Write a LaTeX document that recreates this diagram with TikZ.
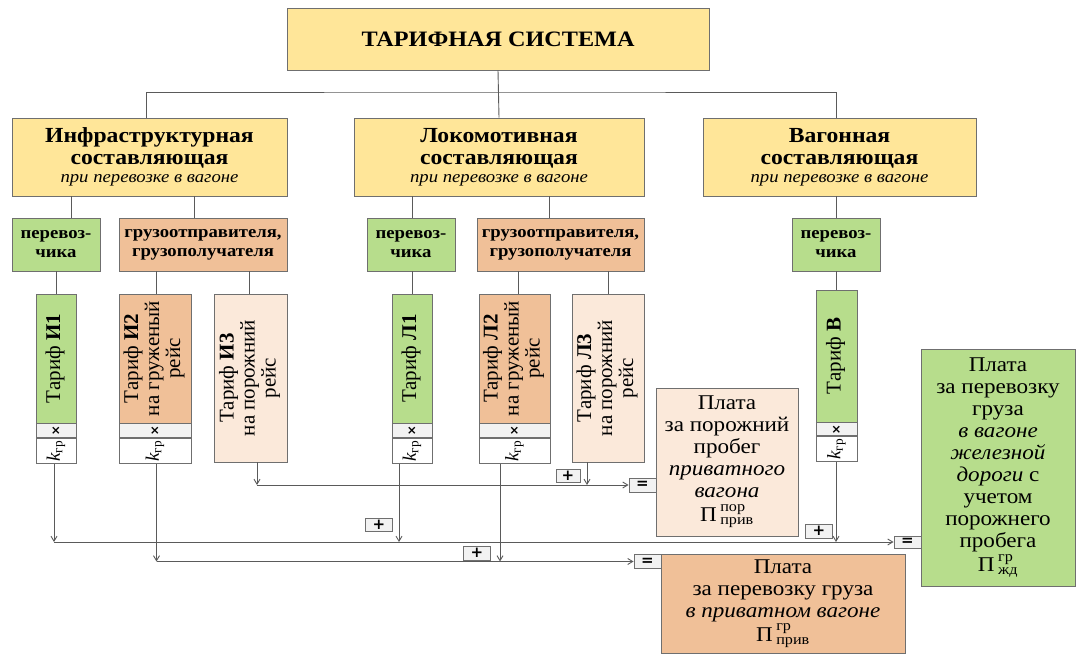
\documentclass[tikz,border=0pt]{standalone}
\usepackage{amsmath}
\usepackage{graphicx}
\usepackage{fontspec}
\setmainfont{Liberation Serif}[FakeStretch=1.1]
\newfontfamily\rotfont{Liberation Serif}
\newfontfamily\symfont{DejaVu Sans}
\usetikzlibrary{arrows.meta,calc}
\definecolor{yel}{HTML}{FFE699}
\definecolor{grn}{HTML}{B7DD8C}
\definecolor{org}{HTML}{F0C098}
\definecolor{pch}{HTML}{FBE9DA}
\definecolor{opf}{HTML}{F2F2F2}
\definecolor{bord}{HTML}{6F6F6F}
\definecolor{lin}{HTML}{5A5A5A}
\tikzset{
  bx/.style={draw=bord, line width=0.9pt, inner sep=0pt, align=center, text=black},
  conn/.style={draw=lin, line width=0.9pt},
  arr/.style={conn, -{Straight Barb[length=5pt,width=6pt]}},
  opbox/.style={bx, fill=opf, minimum width=27pt, minimum height=14pt, font=\symfont\fontsize{15}{15}\selectfont\bfseries},
  comp/.style={bx, fill=yel, minimum height=78pt, font=\fontsize{21.5}{22}\selectfont},
  sub/.style={bx, minimum height=53pt, font=\fontsize{17}{19}\selectfont\bfseries},
  tar/.style={bx, minimum height=129pt, font=\rotfont\fontsize{21}{21}\selectfont},
  xrow/.style={bx, fill=opf, minimum height=14pt, anchor=north, font=\symfont\fontsize{12}{12}\selectfont\bfseries},
  krow/.style={bx, fill=white, minimum height=25pt, anchor=north, font=\rotfont\fontsize{19}{19}\selectfont},
  plata/.style={bx, font=\fontsize{21}{22}\selectfont},
}
\newcommand{\rt}[1]{\rotatebox{90}{\begin{tabular}{@{}c@{}}#1\end{tabular}}}
\newcommand{\kgr}{\rotatebox{90}{\textit{k}$_{\text{гр}}$}}
\newcommand{\subtl}{{\itshape\fontsize{17}{17}\selectfont при перевозке в вагоне}}
\begin{document}
\begin{tikzpicture}[x=1pt,y=-1pt]
\useasboundingbox (0,0) rectangle (1076,656);
% title
\node[bx, fill=yel, minimum width=422pt, minimum height=62pt, font=\fontsize{22}{22}\selectfont\bfseries] (title) at (498,39) {ТАРИФНАЯ СИСТЕМА};
% components
\node[comp, minimum width=275pt] (infra) at (149.5,157) {\textbf{Инфраструктурная}\\\textbf{составляющая}\\[-4pt]\subtl};
\node[comp, minimum width=290pt] (lok) at (499,157) {\textbf{Локомотивная}\\\textbf{составляющая}\\[-4pt]\subtl};
\node[comp, minimum width=273pt] (vag) at (839.5,157) {\textbf{Вагонная}\\\textbf{составляющая}\\[-4pt]\subtl};
% sub boxes
\node[sub, fill=grn, minimum width=88pt] (p1) at (56,244.5) {перевоз-\\чика};
\node[sub, fill=org, minimum width=168pt] (g1) at (203,244.5) {грузоотправителя,\\грузополучателя};
\node[sub, fill=grn, minimum width=88pt] (p2) at (411,244.5) {перевоз-\\чика};
\node[sub, fill=org, minimum width=167pt] (g2) at (560.5,244.5) {грузоотправителя,\\грузополучателя};
\node[sub, fill=grn, minimum width=88pt] (p3) at (836,244.5) {перевоз-\\чика};
% tariffs
\node[tar, fill=grn, minimum width=40pt] (i1) at (56,358.5) {\rt{Тариф \textbf{И1}}};
\node[xrow, minimum width=40pt] (i1x) at (i1.south) {×};
\node[krow, minimum width=40pt] (i1k) at (i1x.south) {\kgr};
\node[tar, fill=org, minimum width=72pt] (i2) at (155,358.5) {\rt{Тариф \textbf{И2}\\на груженый\\рейс}};
\node[xrow, minimum width=72pt] (i2x) at (i2.south) {×};
\node[krow, minimum width=72pt] (i2k) at (i2x.south) {\kgr};
\node[tar, fill=pch, minimum width=73pt, minimum height=168pt] (i3) at (250.5,378) {\rt{Тариф \textbf{И3}\\на порожний\\рейс}};
\node[tar, fill=grn, minimum width=40pt] (l1) at (412,358.5) {\rt{Тариф \textbf{Л1}}};
\node[xrow, minimum width=40pt] (l1x) at (l1.south) {×};
\node[krow, minimum width=40pt] (l1k) at (l1x.south) {\kgr};
\node[tar, fill=org, minimum width=71pt] (l2) at (514.5,358.5) {\rt{Тариф \textbf{Л2}\\на груженый\\рейс}};
\node[xrow, minimum width=71pt] (l2x) at (l2.south) {×};
\node[krow, minimum width=71pt] (l2k) at (l2x.south) {\kgr};
\node[tar, fill=pch, minimum width=72pt, minimum height=168pt] (l3) at (608,378) {\rt{Тариф \textbf{Л3}\\на порожний\\рейс}};
\node[tar, fill=grn, minimum width=41pt, minimum height=132pt] (v) at (836.5,356) {\rt{Тариф \textbf{В}}};
\node[xrow, minimum width=41pt, minimum height=13pt] (vx) at (v.south) {×};
\node[krow, minimum width=41pt] (vk) at (vx.south) {\kgr};
% result boxes
\node[plata, fill=pch, minimum width=142pt, minimum height=148pt] (pe) at (727,462) {Плата\\за порожний\\пробег\\\textit{приватного}\\\textit{вагона}\\[2pt]П$\,{}^{\text{пор}}_{\text{прив}}$};
\node[plata, fill=grn, minimum width=154pt, minimum height=237pt] (pz) at (998,467.5) {Плата\\за перевозку\\груза\\\textit{в вагоне}\\\textit{железной}\\\textit{дороги} с\\учетом\\порожнего\\пробега\\[2pt]П$\,{}^{\text{гр}}_{\text{жд}}$};
\node[plata, fill=org, minimum width=244pt, minimum height=99pt] (pp) at (783,603.5) {Плата\\за перевозку груза\\\textit{в приватном вагоне}\\[2pt]П$\,{}^{\text{гр}}_{\text{прив}}$};
% operators
\node[opbox] (eq3) at (642.5,485) {=};
\node[opbox] (eq2) at (647.5,561.5) {=};
\node[opbox, minimum height=12pt] (eq1) at (907.5,542) {=};
\node[opbox, minimum width=24pt, minimum height=13pt] (pl3) at (568,475.5) {+};
\node[opbox, minimum height=13pt] (pl1) at (379,524.5) {+};
\node[opbox] (pl2) at (477,553) {+};
\node[opbox] (pl4) at (819,531) {+};
% connectors: top
\coordinate (bus) at (498,92);
\draw[conn] (title.south) -- (lok.north);
\draw[conn] ([xshift=-3.5pt]infra.north) |- (bus) -| ([xshift=-3.5pt]vag.north);
\draw[conn] ([xshift=15pt]p1.north) -- ([xshift=15pt]p1.north |- infra.south);
\draw[conn] ([xshift=-9pt]g1.north) -- ([xshift=-9pt]g1.north |- infra.south);
\draw[conn] ([xshift=1pt]p2.north) -- ([xshift=1pt]p2.north |- lok.south);
\draw[conn] ([xshift=-11.5pt]g2.north) -- ([xshift=-11.5pt]g2.north |- lok.south);
\draw[conn] (p3.north) -- (p3.north |- vag.south);
\draw[conn] (i1.north) -- (i1.north |- p1.south);
\draw[conn] ([xshift=1pt]i2.north) -- ([xshift=1pt]i2.north |- g1.south);
\draw[conn] ([xshift=-1.5pt]i3.north) -- ([xshift=-1.5pt]i3.north |- g1.south);
\draw[conn] (l1.north) -- (l1.north |- p2.south);
\draw[conn] ([xshift=3.5pt]l2.north) -- ([xshift=3.5pt]l2.north |- g2.south);
\draw[conn] (l3.north) -- (l3.north |- g2.south);
\draw[conn] ([xshift=-0.5pt]v.north) -- ([xshift=-0.5pt]v.north |- p3.south);
% connectors: bottom
\draw[arr] ([xshift=-2pt]i1k.south) -- ([xshift=-2pt]i1k.south |- eq1.west);
\draw[arr] ([xshift=-2pt]i1k.south |- eq1.west) -- (eq1.west);
\draw[arr] ([xshift=-13pt]l1k.south) -- ([xshift=-13pt]l1k.south |- eq1.west);
\draw[arr] ([xshift=-0.5pt]vk.south) -- ([xshift=-0.5pt]vk.south |- eq1.west);
\draw[arr] ([xshift=1.5pt]i2k.south) -- ([xshift=1.5pt]i2k.south |- eq2.west);
\draw[arr] ([xshift=1.5pt]i2k.south |- eq2.west) -- (eq2.west);
\draw[arr] ([xshift=-14.5pt]l2k.south) -- ([xshift=-14.5pt]l2k.south |- eq2.west);
\draw[arr] ([xshift=6.5pt]i3.south) -- ([xshift=6.5pt]i3.south |- eq3.west);
\draw[arr] ([xshift=6.5pt]i3.south |- eq3.west) -- (eq3.west);
\draw[arr] ([xshift=-21pt]l3.south) -- ([xshift=-21pt]l3.south |- eq3.west);
\end{tikzpicture}
\end{document}
